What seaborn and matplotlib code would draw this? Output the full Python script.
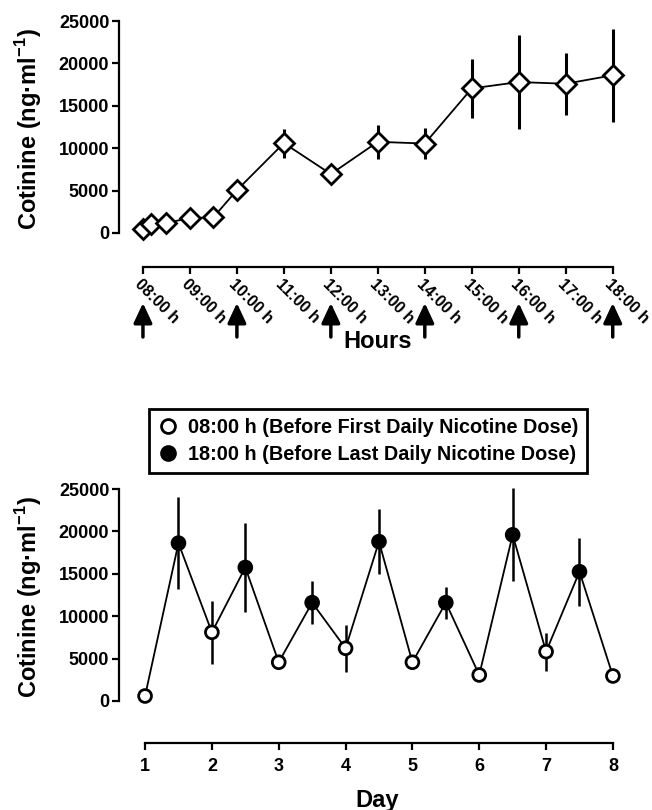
import numpy as np
import pandas as pd
import seaborn as sns
import matplotlib.pyplot as plt
import matplotlib.transforms as mtransforms
from matplotlib.lines import Line2D

# ---- top panel: cotinine over the day ----
hours = [8.0, 8.17, 8.5, 9.0, 9.5, 10, 11, 12, 13, 14, 15, 16, 17, 18]
cot_hour = [470, 1100, 1200, 1750, 1850, 5050, 10600, 6950, 10750, 10550, 17050, 17800, 17600, 18600]
sem_hour = [200, 250, 250, 300, 350, 600, 1700, 700, 2000, 1850, 3500, 5500, 3650, 5500]
hour_ticks = [8, 9, 10, 11, 12, 13, 14, 15, 16, 17, 18]
hour_labels = ["08:00 h", "09:00 h", "10:00 h", "11:00 h", "12:00 h", "13:00 h",
               "14:00 h", "15:00 h", "16:00 h", "17:00 h", "18:00 h"]
dose_hours = [8, 10, 12, 14, 16, 18]

# ---- bottom panel: cotinine over days ----
day_am = [1, 2, 3, 4, 5, 6, 7, 8]
cot_am = [590, 8100, 4570, 6220, 4570, 3070, 5820, 2950]
sem_am = [300, 3750, 450, 2750, 450, 400, 2250, 400]
day_pm = [1.5, 2.5, 3.5, 4.5, 5.5, 6.5, 7.5]
cot_pm = [18620, 15750, 11600, 18800, 11600, 19600, 15250]
sem_pm = [5450, 5300, 2550, 3800, 1900, 5500, 4000]
legend_labels = ["08:00 h (Before First Daily Nicotine Dose)",
                 "18:00 h (Before Last Daily Nicotine Dose)"]
y_ticks = [0, 5000, 10000, 15000, 20000, 25000]

sns.set_style("ticks")
plt.rcParams["font.family"] = ["Liberation Sans", "DejaVu Sans"]
plt.rcParams["font.weight"] = "bold"
plt.rcParams["axes.labelweight"] = "bold"
plt.rcParams["text.color"] = "black"
plt.rcParams["axes.labelcolor"] = "black"
plt.rcParams["xtick.color"] = "black"
plt.rcParams["ytick.color"] = "black"
plt.rcParams["mathtext.fontset"] = "custom"
plt.rcParams["mathtext.rm"] = "Liberation Sans:bold"
plt.rcParams["mathtext.bf"] = "Liberation Sans:bold"

fig = plt.figure(figsize=(6.52, 8.10), dpi=100)
ax1 = fig.add_axes([0.1825, 0.7019, 0.776, 0.2774])
ax2 = fig.add_axes([0.1825, 0.1241, 0.776, 0.2774])

top = pd.DataFrame({"hour": hours, "cot": cot_hour, "sem": sem_hour})
ax1.errorbar(top["hour"], top["cot"], yerr=top["sem"], fmt="none",
             ecolor="black", elinewidth=2.2, capsize=0, zorder=2)
sns.lineplot(data=top, x="hour", y="cot", ax=ax1, color="black", lw=1.3,
             marker="D", markersize=10.2, markerfacecolor="white",
             markeredgecolor="black", markeredgewidth=2, zorder=3)

am = pd.DataFrame({"day": day_am, "cot": cot_am, "sem": sem_am, "dose": "am"})
pm = pd.DataFrame({"day": day_pm, "cot": cot_pm, "sem": sem_pm, "dose": "pm"})
both = pd.concat([am, pm]).sort_values("day")
ax2.errorbar(both["day"], both["cot"], yerr=both["sem"], fmt="none",
             ecolor="black", elinewidth=1.8, capsize=0, zorder=2)
sns.lineplot(data=both, x="day", y="cot", ax=ax2, color="black", lw=1.3, zorder=2)
sns.scatterplot(data=both, x="day", y="cot", hue="dose",
                palette={"am": "white", "pm": "black"}, edgecolor="black",
                linewidth=2, s=85, ax=ax2, zorder=3, legend=False)

for ax in (ax1, ax2):
    ax.set_ylim(-1000, 25500)
    ax.set_yticks(y_ticks)
    ax.set_yticklabels([str(t) for t in y_ticks])
    for s in ("top", "right"):
        ax.spines[s].set_visible(False)
    ax.spines["left"].set_bounds(0, 25000)
    for s in ("left", "bottom"):
        ax.spines[s].set_linewidth(1.6)
        ax.spines[s].set_color("black")
    ax.tick_params(width=1.6, length=5, labelsize=13, colors="black", pad=2)
    ax.set_ylabel("Cotinine (ng·ml$^{-1}$)", fontsize=17, va="center")
    ax.yaxis.set_label_coords(-0.178, 0.5)

ax1.set_xlim(7.49, 18.26)
ax1.spines["bottom"].set_bounds(8, 18)
ax1.spines["bottom"].set_position(("outward", 18.4))
ax1.set_xticks(hour_ticks)
ax1.set_xticklabels(hour_labels, rotation=-45, ha="left", va="top",
                    rotation_mode="anchor", fontsize=11.5)
ax1.set_xlabel("Hours", fontsize=17)
ax1.xaxis.set_label_coords(0.512, -0.447)
ax1.xaxis.label.set_va("center")

trans = mtransforms.blended_transform_factory(ax1.transData, fig.transFigure)
for h in dose_hours:
    ax1.annotate("", xy=(h, 1 - 303 / 810), xycoords=trans,
                 xytext=(h, 1 - 337 / 810), textcoords=trans,
                 arrowprops=dict(arrowstyle="-|>,head_length=0.6,head_width=0.28",
                                 lw=2.5, color="black", mutation_scale=20,
                                 shrinkA=0, shrinkB=0),
                 annotation_clip=False)

ax2.set_xlim(0.61, 8.18)
ax2.spines["bottom"].set_bounds(1, 8)
ax2.spines["bottom"].set_position(("outward", 24.1))
ax2.set_xticks(day_am)
ax2.set_xticklabels([str(d) for d in day_am])
ax2.tick_params(axis="x", pad=6)
ax2.set_xlabel("Day", fontsize=17)
ax2.xaxis.set_label_coords(0.51, -0.403)
ax2.xaxis.label.set_va("center")

handles = [
    Line2D([], [], marker="o", ls="none", mfc="white", mec="black", mew=2, ms=10),
    Line2D([], [], marker="o", ls="none", mfc="black", mec="black", mew=2, ms=10),
]
leg = fig.legend(handles, legend_labels, loc="upper left",
                 bbox_to_anchor=(149 / 652, 1 - 409 / 810), bbox_transform=fig.transFigure,
                 frameon=True, fancybox=False, edgecolor="black", fontsize=14.3,
                 handlelength=1.0, handletextpad=0.5, borderpad=0.45, labelspacing=0.4,
                 borderaxespad=0)
leg.get_frame().set_linewidth(2)
leg.get_frame().set_alpha(1)

fig.savefig("out.png", dpi=100)
